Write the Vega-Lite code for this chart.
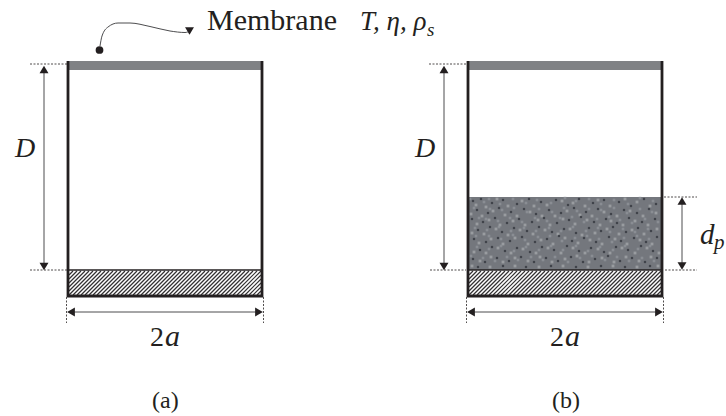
{"$schema":"https://vega.github.io/schema/vega-lite/v6.json","width":726,"height":416,"padding":0,"autosize":{"type":"fit","contains":"padding"},"background":"white","view":{"stroke":null},
"datasets":{
"rects":[{"x":69,"x2":261,"y":61,"y2":70,"c":"#808285"},{"x":469,"x2":661,"y":61,"y2":70,"c":"#808285"},{"x":469,"x2":661,"y":197,"y2":270,"c":"#74777d"}],
"hatch":[{"x":69,"y":275,"x2":73,"y2":271},{"x":69,"y":279,"x2":77,"y2":271},{"x":69,"y":283,"x2":81,"y2":271},{"x":69,"y":287,"x2":85,"y2":271},{"x":69,"y":291,"x2":89,"y2":271},{"x":69,"y":295,"x2":93,"y2":271},{"x":73,"y":295,"x2":97,"y2":271},{"x":77,"y":295,"x2":101,"y2":271},{"x":81,"y":295,"x2":105,"y2":271},{"x":85,"y":295,"x2":109,"y2":271},{"x":89,"y":295,"x2":113,"y2":271},{"x":93,"y":295,"x2":117,"y2":271},{"x":97,"y":295,"x2":121,"y2":271},{"x":101,"y":295,"x2":125,"y2":271},{"x":105,"y":295,"x2":129,"y2":271},{"x":109,"y":295,"x2":133,"y2":271},{"x":113,"y":295,"x2":137,"y2":271},{"x":117,"y":295,"x2":141,"y2":271},{"x":121,"y":295,"x2":145,"y2":271},{"x":125,"y":295,"x2":149,"y2":271},{"x":129,"y":295,"x2":153,"y2":271},{"x":133,"y":295,"x2":157,"y2":271},{"x":137,"y":295,"x2":161,"y2":271},{"x":141,"y":295,"x2":165,"y2":271},{"x":145,"y":295,"x2":169,"y2":271},{"x":149,"y":295,"x2":173,"y2":271},{"x":153,"y":295,"x2":177,"y2":271},{"x":157,"y":295,"x2":181,"y2":271},{"x":161,"y":295,"x2":185,"y2":271},{"x":165,"y":295,"x2":189,"y2":271},{"x":169,"y":295,"x2":193,"y2":271},{"x":173,"y":295,"x2":197,"y2":271},{"x":177,"y":295,"x2":201,"y2":271},{"x":181,"y":295,"x2":205,"y2":271},{"x":185,"y":295,"x2":209,"y2":271},{"x":189,"y":295,"x2":213,"y2":271},{"x":193,"y":295,"x2":217,"y2":271},{"x":197,"y":295,"x2":221,"y2":271},{"x":201,"y":295,"x2":225,"y2":271},{"x":205,"y":295,"x2":229,"y2":271},{"x":209,"y":295,"x2":233,"y2":271},{"x":213,"y":295,"x2":237,"y2":271},{"x":217,"y":295,"x2":241,"y2":271},{"x":221,"y":295,"x2":245,"y2":271},{"x":225,"y":295,"x2":249,"y2":271},{"x":229,"y":295,"x2":253,"y2":271},{"x":233,"y":295,"x2":257,"y2":271},{"x":237,"y":295,"x2":261,"y2":271},{"x":241,"y":295,"x2":261,"y2":275},{"x":245,"y":295,"x2":261,"y2":279},{"x":249,"y":295,"x2":261,"y2":283},{"x":253,"y":295,"x2":261,"y2":287},{"x":257,"y":295,"x2":261,"y2":291},
{"x":469,"y":275,"x2":473,"y2":271},{"x":469,"y":279,"x2":477,"y2":271},{"x":469,"y":283,"x2":481,"y2":271},{"x":469,"y":287,"x2":485,"y2":271},{"x":469,"y":291,"x2":489,"y2":271},{"x":469,"y":295,"x2":493,"y2":271},{"x":473,"y":295,"x2":497,"y2":271},{"x":477,"y":295,"x2":501,"y2":271},{"x":481,"y":295,"x2":505,"y2":271},{"x":485,"y":295,"x2":509,"y2":271},{"x":489,"y":295,"x2":513,"y2":271},{"x":493,"y":295,"x2":517,"y2":271},{"x":497,"y":295,"x2":521,"y2":271},{"x":501,"y":295,"x2":525,"y2":271},{"x":505,"y":295,"x2":529,"y2":271},{"x":509,"y":295,"x2":533,"y2":271},{"x":513,"y":295,"x2":537,"y2":271},{"x":517,"y":295,"x2":541,"y2":271},{"x":521,"y":295,"x2":545,"y2":271},{"x":525,"y":295,"x2":549,"y2":271},{"x":529,"y":295,"x2":553,"y2":271},{"x":533,"y":295,"x2":557,"y2":271},{"x":537,"y":295,"x2":561,"y2":271},{"x":541,"y":295,"x2":565,"y2":271},{"x":545,"y":295,"x2":569,"y2":271},{"x":549,"y":295,"x2":573,"y2":271},{"x":553,"y":295,"x2":577,"y2":271},{"x":557,"y":295,"x2":581,"y2":271},{"x":561,"y":295,"x2":585,"y2":271},{"x":565,"y":295,"x2":589,"y2":271},{"x":569,"y":295,"x2":593,"y2":271},{"x":573,"y":295,"x2":597,"y2":271},{"x":577,"y":295,"x2":601,"y2":271},{"x":581,"y":295,"x2":605,"y2":271},{"x":585,"y":295,"x2":609,"y2":271},{"x":589,"y":295,"x2":613,"y2":271},{"x":593,"y":295,"x2":617,"y2":271},{"x":597,"y":295,"x2":621,"y2":271},{"x":601,"y":295,"x2":625,"y2":271},{"x":605,"y":295,"x2":629,"y2":271},{"x":609,"y":295,"x2":633,"y2":271},{"x":613,"y":295,"x2":637,"y2":271},{"x":617,"y":295,"x2":641,"y2":271},{"x":621,"y":295,"x2":645,"y2":271},{"x":625,"y":295,"x2":649,"y2":271},{"x":629,"y":295,"x2":653,"y2":271},{"x":633,"y":295,"x2":657,"y2":271},{"x":637,"y":295,"x2":661,"y2":271},{"x":641,"y":295,"x2":661,"y2":275},{"x":645,"y":295,"x2":661,"y2":279},{"x":649,"y":295,"x2":661,"y2":283},{"x":653,"y":295,"x2":661,"y2":287},{"x":657,"y":295,"x2":661,"y2":291}],
"walls":[{"x":68,"y":61,"x2":68,"y2":297},{"x":262,"y":61,"x2":262,"y2":297},{"x":67,"y":296,"x2":263,"y2":296},{"x":468,"y":61,"x2":468,"y2":297},{"x":662,"y":61,"x2":662,"y2":297},{"x":467,"y":296,"x2":663,"y2":296}],
"ledges":[{"x":68,"y":270,"x2":262,"y2":270},{"x":468,"y":270,"x2":662,"y2":270}],
"dashes":[{"x":30,"y":64,"x2":67,"y2":64},{"x":30,"y":270,"x2":67,"y2":270},{"x":429,"y":64,"x2":466,"y2":64},{"x":430,"y":270,"x2":466,"y2":270},{"x":664,"y":197,"x2":697,"y2":197},{"x":665,"y":270,"x2":697,"y2":270},{"x":66.5,"y":297,"x2":66.5,"y2":323},{"x":263.5,"y":297,"x2":263.5,"y2":323},{"x":466.5,"y":297,"x2":466.5,"y2":323},{"x":663.5,"y":297,"x2":663.5,"y2":323}],
"arrows":[{"x":44,"y":68,"x2":44,"y2":266},{"x":444,"y":68,"x2":444,"y2":266},{"x":682,"y":200,"x2":682,"y2":267},{"x":70,"y":312,"x2":260,"y2":312},{"x":470,"y":312,"x2":660,"y2":312}],
"heads":[{"x":44,"y":69.5,"s":"triangle-up"},{"x":44,"y":266.5,"s":"triangle-down"},{"x":444,"y":69.5,"s":"triangle-up"},{"x":444,"y":266.5,"s":"triangle-down"},{"x":682,"y":201,"s":"triangle-up"},{"x":682,"y":266,"s":"triangle-down"},{"x":71,"y":312,"s":"triangle-left"},{"x":259,"y":312,"s":"triangle-right"},{"x":471,"y":312,"s":"triangle-left"},{"x":659,"y":312,"s":"triangle-right"},{"x":189.5,"y":31,"s":"triangle-down"}],
"curve":[{"x":100,"y":46},{"x":102,"y":36},{"x":108,"y":27},{"x":118,"y":23},{"x":130,"y":23},{"x":150,"y":26.5},{"x":170,"y":31},{"x":185,"y":32.5},{"x":190,"y":31}],
"dot":[{"x":99.5,"y":50}],
"dark":[{"x":473,"y":201},{"x":481,"y":199},{"x":492,"y":203},{"x":503,"y":200},{"x":517,"y":204},{"x":529,"y":199},{"x":541,"y":202},{"x":556,"y":200},{"x":568,"y":205},{"x":579,"y":199},{"x":593,"y":203},{"x":604,"y":200},{"x":619,"y":202},{"x":631,"y":206},{"x":644,"y":199},{"x":656,"y":204},{"x":477,"y":210},{"x":488,"y":213},{"x":499,"y":208},{"x":511,"y":212},{"x":524,"y":209},{"x":536,"y":214},{"x":549,"y":210},{"x":561,"y":213},{"x":574,"y":208},{"x":586,"y":212},{"x":598,"y":209},{"x":611,"y":214},{"x":624,"y":210},{"x":637,"y":213},{"x":649,"y":209},{"x":472,"y":219},{"x":483,"y":222},{"x":495,"y":218},{"x":507,"y":223},{"x":519,"y":219},{"x":532,"y":222},{"x":544,"y":218},{"x":557,"y":223},{"x":569,"y":220},{"x":581,"y":217},{"x":594,"y":222},{"x":606,"y":219},{"x":617,"y":223},{"x":629,"y":218},{"x":642,"y":222},{"x":655,"y":219},{"x":478,"y":230},{"x":490,"y":227},{"x":502,"y":232},{"x":514,"y":228},{"x":527,"y":231},{"x":539,"y":227},{"x":552,"y":232},{"x":564,"y":229},{"x":576,"y":233},{"x":589,"y":228},{"x":601,"y":231},{"x":613,"y":227},{"x":626,"y":232},{"x":638,"y":228},{"x":651,"y":231},{"x":474,"y":239},{"x":486,"y":242},{"x":498,"y":238},{"x":510,"y":241},{"x":522,"y":237},{"x":535,"y":242},{"x":547,"y":239},{"x":559,"y":236},{"x":572,"y":241},{"x":584,"y":238},{"x":596,"y":242},{"x":609,"y":237},{"x":621,"y":241},{"x":634,"y":238},{"x":646,"y":242},{"x":657,"y":237},{"x":480,"y":250},{"x":492,"y":247},{"x":505,"y":251},{"x":517,"y":248},{"x":530,"y":252},{"x":542,"y":247},{"x":554,"y":250},{"x":567,"y":246},{"x":579,"y":251},{"x":591,"y":248},{"x":604,"y":252},{"x":616,"y":247},{"x":628,"y":250},{"x":641,"y":246},{"x":653,"y":251},{"x":473,"y":259},{"x":485,"y":262},{"x":497,"y":258},{"x":509,"y":261},{"x":521,"y":257},{"x":534,"y":262},{"x":546,"y":258},{"x":558,"y":261},{"x":571,"y":257},{"x":583,"y":262},{"x":595,"y":259},{"x":608,"y":256},{"x":620,"y":261},{"x":632,"y":258},{"x":645,"y":262},{"x":657,"y":258},{"x":478,"y":267},{"x":503,"y":266},{"x":526,"y":267},{"x":551,"y":266},{"x":576,"y":267},{"x":601,"y":266},{"x":625,"y":267},{"x":650,"y":266}],
"light":[{"x":476,"y":205},{"x":486,"y":207},{"x":497,"y":199},{"x":508,"y":206},{"x":522,"y":201},{"x":534,"y":206},{"x":547,"y":205},{"x":562,"y":201},{"x":573,"y":203},{"x":585,"y":206},{"x":598,"y":200},{"x":610,"y":206},{"x":625,"y":199},{"x":637,"y":202},{"x":650,"y":206},{"x":471,"y":214},{"x":482,"y":216},{"x":493,"y":211},{"x":505,"y":215},{"x":517,"y":216},{"x":530,"y":212},{"x":542,"y":216},{"x":555,"y":216},{"x":567,"y":211},{"x":580,"y":215},{"x":592,"y":216},{"x":604,"y":212},{"x":617,"y":216},{"x":630,"y":211},{"x":643,"y":216},{"x":656,"y":213},{"x":477,"y":224},{"x":489,"y":220},{"x":500,"y":225},{"x":513,"y":221},{"x":525,"y":225},{"x":538,"y":220},{"x":550,"y":225},{"x":563,"y":219},{"x":575,"y":224},{"x":587,"y":220},{"x":600,"y":225},{"x":611,"y":221},{"x":623,"y":225},{"x":635,"y":221},{"x":648,"y":225},{"x":472,"y":233},{"x":484,"y":234},{"x":496,"y":229},{"x":508,"y":235},{"x":520,"y":230},{"x":533,"y":234},{"x":545,"y":230},{"x":558,"y":234},{"x":570,"y":229},{"x":582,"y":235},{"x":595,"y":233},{"x":607,"y":229},{"x":619,"y":234},{"x":632,"y":230},{"x":644,"y":234},{"x":657,"y":229},{"x":479,"y":243},{"x":491,"y":239},{"x":503,"y":244},{"x":515,"y":238},{"x":528,"y":244},{"x":541,"y":240},{"x":553,"y":244},{"x":565,"y":238},{"x":578,"y":243},{"x":590,"y":240},{"x":602,"y":244},{"x":615,"y":239},{"x":627,"y":244},{"x":640,"y":240},{"x":652,"y":244},{"x":474,"y":252},{"x":486,"y":253},{"x":498,"y":248},{"x":511,"y":253},{"x":523,"y":249},{"x":536,"y":253},{"x":548,"y":248},{"x":561,"y":253},{"x":573,"y":248},{"x":585,"y":253},{"x":598,"y":249},{"x":610,"y":253},{"x":622,"y":248},{"x":635,"y":253},{"x":647,"y":248},{"x":659,"y":253},{"x":480,"y":261},{"x":491,"y":257},{"x":503,"y":262},{"x":515,"y":258},{"x":528,"y":261},{"x":540,"y":257},{"x":552,"y":262},{"x":565,"y":259},{"x":577,"y":256},{"x":589,"y":262},{"x":602,"y":258},{"x":614,"y":262},{"x":626,"y":257},{"x":639,"y":261},{"x":651,"y":257},{"x":472,"y":266},{"x":490,"y":267},{"x":515,"y":266},{"x":539,"y":267},{"x":563,"y":266},{"x":588,"y":267},{"x":613,"y":266},{"x":637,"y":267},{"x":658,"y":266}],
"light2":[{"x":470,"y":199},{"x":484,"y":202},{"x":489,"y":199},{"x":500,"y":204},{"x":513,"y":199},{"x":526,"y":203},{"x":537,"y":200},{"x":551,"y":203},{"x":565,"y":198},{"x":576,"y":201},{"x":589,"y":199},{"x":601,"y":204},{"x":614,"y":200},{"x":628,"y":204},{"x":640,"y":198},{"x":653,"y":201},{"x":474,"y":208},{"x":490,"y":209},{"x":502,"y":210},{"x":514,"y":208},{"x":527,"y":212},{"x":539,"y":209},{"x":552,"y":212},{"x":564,"y":208},{"x":577,"y":211},{"x":589,"y":209},{"x":601,"y":210},{"x":614,"y":208},{"x":627,"y":213},{"x":640,"y":209},{"x":652,"y":212},{"x":479,"y":218},{"x":486,"y":219},{"x":498,"y":221},{"x":510,"y":218},{"x":522,"y":222},{"x":535,"y":218},{"x":547,"y":221},{"x":560,"y":218},{"x":572,"y":217},{"x":584,"y":222},{"x":597,"y":219},{"x":609,"y":217},{"x":620,"y":220},{"x":632,"y":223},{"x":645,"y":219},{"x":658,"y":222},{"x":475,"y":228},{"x":487,"y":230},{"x":499,"y":227},{"x":511,"y":231},{"x":524,"y":228},{"x":536,"y":231},{"x":549,"y":228},{"x":561,"y":231},{"x":573,"y":227},{"x":586,"y":231},{"x":598,"y":228},{"x":610,"y":232},{"x":623,"y":229},{"x":635,"y":232},{"x":648,"y":229},{"x":476,"y":236},{"x":489,"y":236},{"x":501,"y":239},{"x":513,"y":235},{"x":525,"y":240},{"x":538,"y":237},{"x":550,"y":236},{"x":562,"y":241},{"x":575,"y":238},{"x":587,"y":236},{"x":599,"y":239},{"x":612,"y":242},{"x":624,"y":238},{"x":637,"y":236},{"x":649,"y":239},{"x":477,"y":247},{"x":489,"y":249},{"x":501,"y":246},{"x":514,"y":251},{"x":526,"y":247},{"x":539,"y":250},{"x":551,"y":246},{"x":563,"y":250},{"x":576,"y":246},{"x":588,"y":251},{"x":600,"y":247},{"x":613,"y":250},{"x":625,"y":246},{"x":638,"y":249},{"x":650,"y":246},{"x":471,"y":256},{"x":483,"y":258},{"x":495,"y":261},{"x":507,"y":257},{"x":518,"y":260},{"x":531,"y":257},{"x":543,"y":260},{"x":555,"y":257},{"x":568,"y":262},{"x":580,"y":258},{"x":592,"y":256},{"x":605,"y":260},{"x":617,"y":257},{"x":629,"y":261},{"x":642,"y":258},{"x":654,"y":261}],
"roman":[{"t":"Membrane","x":207,"y":30,"z":30},{"t":"(a)","x":152,"y":408,"z":24},{"t":"(b)","x":552,"y":408,"z":24},{"t":"2","x":150,"y":346,"z":28},{"t":"2","x":550,"y":346,"z":28}],
"italic":[{"t":"T, η, ρ","x":360,"y":30,"z":27},{"t":"s","x":427,"y":36,"z":19},{"t":"D","x":15,"y":157,"z":28},{"t":"D","x":415,"y":157,"z":28},{"t":"d","x":700,"y":244,"z":29},{"t":"p","x":714,"y":249,"z":21},{"t":"a","x":165,"y":346,"z":30},{"t":"a","x":565,"y":346,"z":30}]
},
"encoding":{"x":{"field":"x","type":"quantitative","scale":{"domain":[0,726],"nice":false,"zero":false},"axis":null},"y":{"field":"y","type":"quantitative","scale":{"domain":[416,0],"nice":false,"zero":false},"axis":null}},
"layer":[
{"data":{"name":"rects"},"mark":{"type":"rect"},"encoding":{"x2":{"field":"x2"},"y2":{"field":"y2"},"color":{"field":"c","type":"nominal","scale":null}}},
{"data":{"name":"light"},"mark":{"type":"point","shape":"square","filled":true,"opacity":0.75,"color":"#a6a8ac","size":8}},
{"data":{"name":"light2"},"mark":{"type":"point","shape":"square","filled":true,"opacity":0.6,"color":"#9a9ca1","size":7}},
{"data":{"name":"dark"},"mark":{"type":"point","shape":"square","filled":true,"opacity":0.8,"color":"#33363d","size":5}},
{"data":{"name":"hatch"},"mark":{"type":"rule","color":"#333132","strokeWidth":1.15},"encoding":{"x2":{"field":"x2"},"y2":{"field":"y2"}}},
{"data":{"name":"ledges"},"mark":{"type":"rule","color":"#231f20","strokeWidth":1.5},"encoding":{"x2":{"field":"x2"},"y2":{"field":"y2"}}},
{"data":{"name":"walls"},"mark":{"type":"rule","color":"#231f20","strokeWidth":2.8},"encoding":{"x2":{"field":"x2"},"y2":{"field":"y2"}}},
{"data":{"name":"dashes"},"mark":{"type":"rule","color":"#231f20","strokeWidth":0.8,"strokeDash":[2,1.5]},"encoding":{"x2":{"field":"x2"},"y2":{"field":"y2"}}},
{"data":{"name":"arrows"},"mark":{"type":"rule","color":"#4d4d4f","strokeWidth":1},"encoding":{"x2":{"field":"x2"},"y2":{"field":"y2"}}},
{"data":{"name":"curve"},"mark":{"type":"line","color":"#4d4d4f","strokeWidth":1,"interpolate":"monotone"}},
{"data":{"name":"heads"},"mark":{"type":"point","filled":true,"opacity":1,"color":"#231f20","size":80},"encoding":{"shape":{"field":"s","type":"nominal","scale":null}}},
{"data":{"name":"dot"},"mark":{"type":"circle","opacity":1,"color":"#231f20","size":60}},
{"data":{"name":"roman"},"mark":{"type":"text","font":"Liberation Serif","align":"left","baseline":"alphabetic","color":"#231f20"},"encoding":{"text":{"field":"t"},"size":{"field":"z","type":"quantitative","scale":null}}},
{"data":{"name":"italic"},"mark":{"type":"text","font":"Liberation Serif","fontStyle":"italic","align":"left","baseline":"alphabetic","color":"#231f20"},"encoding":{"text":{"field":"t"},"size":{"field":"z","type":"quantitative","scale":null}}}
]}
